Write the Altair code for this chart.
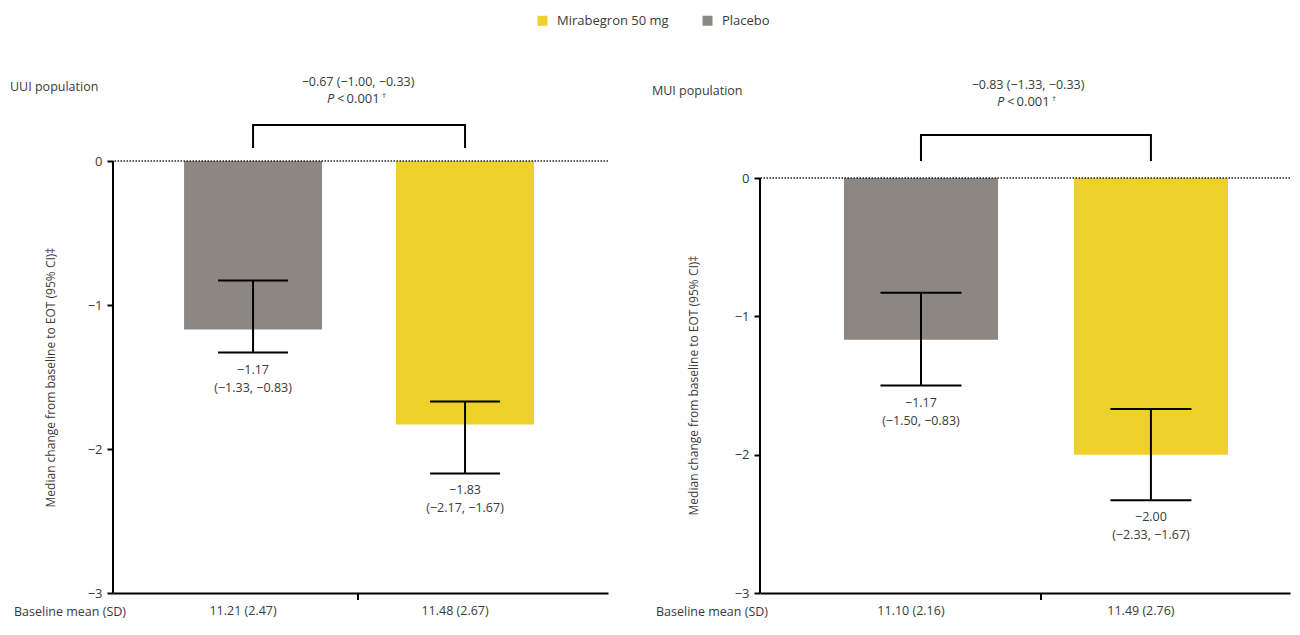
import altair as alt
import pandas as pd

# ---------------- data ----------------
groups = ["Placebo", "Mirabegron 50 mg"]
legend_order = ["Mirabegron 50 mg", "Placebo"]
colors = ["#EDD02C", "#8C8783"]

uui_median = [-1.17, -1.83]
uui_lo = [-1.33, -2.17]
uui_hi = [-0.83, -1.67]
uui_baseline = ["11.21 (2.47)", "11.48 (2.67)"]
uui_diff = "\u22120.67 (\u22121.00, \u22120.33)"

mui_median = [-1.17, -2.00]
mui_lo = [-1.50, -2.33]
mui_hi = [-0.83, -1.67]
mui_baseline = ["11.10 (2.16)", "11.49 (2.76)"]
mui_diff = "\u22120.83 (\u22121.33, \u22120.33)"

y_ticks = [0, -1, -2, -3]
y_title = "Median change from baseline to EOT (95% CI)\u2021"
row_label = "Baseline mean (SD)"
p_text = "<\u20090.001"

FONT = "Open Sans"
TXT = "#3a3a3a"


def fmt(v):
    return ("\u2212" if v < 0 else "") + f"{abs(v):.2f}"


def panel(name, med, lo, hi, base, diff, W, H, ytop, pad_in, pad_out, align,
          cap, bracket_lo, bracket_hi, cx, ann_y, name_x, name_y, xtick,
          title_pad, title_y, show_legend):
    df = pd.DataFrame({
        "group": groups,
        "median": med,
        "lo": lo,
        "hi": hi,
        "zero": [0, 0],
        "label": [fmt(m) + "\n(" + fmt(l) + ", " + fmt(h) + ")"
                  for m, l, h in zip(med, lo, hi)],
    })
    label_expr = " : ".join(
        [f"datum.value == '{g}' ? '{b}'" for g, b in zip(groups[:-1], base[:-1])]
        + [f"'{base[-1]}'"]
    )
    xenc = alt.X(
        "group:N", sort=groups,
        scale=alt.Scale(domain=groups, paddingInner=pad_in,
                        paddingOuter=pad_out, align=align),
        axis=alt.Axis(title=None, domain=True, domainColor="black",
                      domainWidth=2, ticks=False, labelAngle=0,
                      labelExpr=label_expr, labelPadding=11,
                      labelOffset=-10, labelFontSize=12.5,
                      labelColor=TXT, labelFont=FONT),
    )
    yscale = alt.Scale(domain=[-3, ytop], nice=False, zero=False)
    axis_kw = dict(values=y_ticks, format="d", domain=False, grid=False,
                   tickSize=6, tickWidth=2, tickColor="black",
                   labelPadding=5, labelFontSize=13, labelColor=TXT,
                   labelFont=FONT, title=y_title, titleFontSize=12,
                   titleFontWeight="normal", titleColor=TXT,
                   titleFont=FONT, titlePadding=title_pad)
    if title_y is not None:
        axis_kw["titleY"] = title_y
    yenc = alt.Y("median:Q", scale=yscale, axis=alt.Axis(**axis_kw))

    base_chart = alt.Chart(df)

    color = alt.Color(
        "group:N",
        scale=alt.Scale(domain=legend_order, range=colors),
        legend=(alt.Legend(title=None, orient="none", legendX=423,
                           legendY=-147, direction="horizontal",
                           symbolType="square", symbolSize=100,
                           symbolStrokeWidth=0, labelFontSize=13,
                           labelColor=TXT, labelFont=FONT,
                           columnPadding=32, labelOffset=8,
                           symbolOpacity=1)
                if show_legend else None),
    )

    bars = base_chart.mark_bar(opacity=1).encode(
        x=xenc, y=yenc, y2="zero:Q", color=color
    )
    zero_line = alt.Chart(pd.DataFrame({"z": [0]})).mark_rule(
        color="#222", strokeWidth=1.5, strokeDash=[1.5, 1.5]
    ).encode(y=alt.Y("z:Q", scale=yscale))
    y_axis_line = alt.Chart(pd.DataFrame({"a": [0], "b": [-3]})).mark_rule(
        color="black", strokeWidth=2
    ).encode(x=alt.value(0), y=alt.Y("a:Q", scale=yscale), y2="b:Q")
    err = base_chart.mark_rule(color="black", strokeWidth=2).encode(
        x=alt.X("group:N", sort=groups), y=alt.Y("lo:Q", scale=yscale), y2="hi:Q"
    )
    cap_lo = base_chart.mark_tick(color="black", thickness=2, size=cap,
                                  opacity=1).encode(
        x=alt.X("group:N", sort=groups), y=alt.Y("lo:Q", scale=yscale)
    )
    cap_hi = base_chart.mark_tick(color="black", thickness=2, size=cap,
                                  opacity=1).encode(
        x=alt.X("group:N", sort=groups), y=alt.Y("hi:Q", scale=yscale)
    )
    labels = base_chart.mark_text(
        baseline="top", align="center", lineBreak="\n", lineHeight=18,
        dy=11, fontSize=12.5, font=FONT, color=TXT
    ).encode(x=alt.X("group:N", sort=groups),
             y=alt.Y("lo:Q", scale=yscale), text="label:N")

    br = pd.DataFrame({
        "group": [groups[0], groups[0], groups[1], groups[1]],
        "y": [bracket_lo, bracket_hi, bracket_hi, bracket_lo],
        "o": [0, 1, 2, 3],
    })
    bracket = alt.Chart(br).mark_line(
        color="black", strokeWidth=2, strokeJoin="miter", strokeCap="butt"
    ).encode(x=alt.X("group:N", sort=groups),
             y=alt.Y("y:Q", scale=yscale), order="o:Q")

    def txt(text, x, y, align="center", style="normal", size=12.5, dy=0):
        return alt.Chart(pd.DataFrame({"t": [text]})).mark_text(
            align=align, baseline="middle", fontSize=size, font=FONT,
            color=TXT, fontStyle=style, dy=dy
        ).encode(x=alt.value(x), y=alt.value(y), text="t:N")

    ann1 = txt(diff, cx, ann_y - 1)
    p_it = txt("P", cx - 31, ann_y + 16, align="left", style="italic", size=13)
    p_rest = txt(p_text, cx - 21, ann_y + 16, align="left", size=13)
    dagger = txt("\u2020", cx + 24, ann_y + 12.5, align="left", size=8)
    name_t = txt(name, name_x, name_y, align="left", size=12.5)
    row_t = txt(row_label, name_x + 4, H + 19, align="left", size=12.5)
    center_tick = alt.Chart(pd.DataFrame({"t": [0]})).mark_rule(
        color="black", strokeWidth=2
    ).encode(x=alt.value(xtick), y=alt.value(H), y2=alt.value(H + 7))

    return alt.layer(
        bars, zero_line, y_axis_line, err, cap_lo, cap_hi, labels, bracket,
        ann1, p_it, p_rest, dagger, name_t, row_t, center_tick
    ).properties(width=W, height=H)


H = 432
left = panel("UUI population", uui_median, uui_lo, uui_hi, uui_baseline,
             uui_diff, W=495, H=H, ytop=0.0, pad_in=0.349, pad_out=0.342,
             align=0.49, cap=70, bracket_lo=0.09, bracket_hi=0.25, cx=245,
             ann_y=-78, name_x=-103, name_y=-74, xtick=245, title_pad=30,
             title_y=None, show_legend=True)
right = panel("MUI population", mui_median, mui_lo, mui_hi, mui_baseline,
              mui_diff, W=530, H=H, ytop=17 / 138.33, pad_in=0.33,
              pad_out=0.3174, align=0.575, cap=81, bracket_lo=0.123,
              bracket_hi=0.311, cx=268, ann_y=-75, name_x=-108, name_y=-70,
              xtick=281, title_pad=34, title_y=224, show_legend=False)

chart = alt.hconcat(left, right, spacing=152, bounds="flush").properties(
    padding={"left": 2, "top": 6, "right": 0, "bottom": 0}
).configure(font=FONT).configure_view(strokeWidth=0, stroke="transparent")

chart.save("out.html", embed_options={"renderer": "svg", "actions": False})
